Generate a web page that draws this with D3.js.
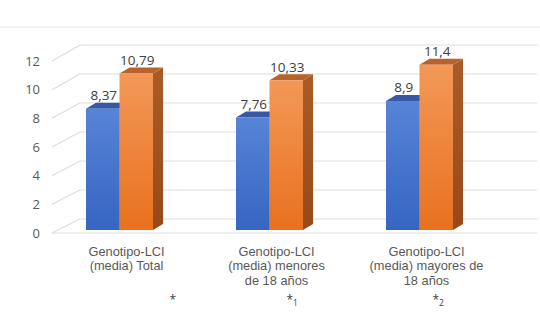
<!DOCTYPE html>
<html><head><meta charset="utf-8">
<script src="https://cdn.jsdelivr.net/npm/d3@7"></script>
<style>body{margin:0;background:#fff}svg{display:block}</style>
</head><body>
<svg id="c" width="540" height="315"></svg>
<script>
const categories = [
  ["Genotipo-LCI","(media) Total"],
  ["Genotipo-LCI","(media) menores","de 18 años"],
  ["Genotipo-LCI","(media) mayores de","18 años"]
];
const markers = ["*", "*1", "*2"];
const seriesA = [8.37, 7.76, 8.9];
const seriesB = [10.79, 10.33, 11.4];
const labelsA = ["8,37","7,76","8,9"];
const labelsB = ["10,79","10,33","11,4"];
const yTicks = [0,2,4,6,8,10,12];

const svg = d3.select("#c");
const idx = d3.range(categories.length);
const xC = d3.scalePoint(idx, [119.5, 419.5]);
const inner = d3.scaleBand([0,1], [-33.5, 33.5]);
const yBar = d3.scaleLinear([0,12],[230,56]);
const yBack = d3.scaleLinear([0,12],[219,45]);
const yWall = d3.scaleLinear([0,12],[233,61]);
const dx = 10, dy = -6;
const grid = "#dedede";
const FONT = "Open Sans";
const CATFONT = "Liberation Sans";

const defs = svg.append("defs");
function grad(id, c1, c2){
  const g = defs.append("linearGradient").attr("id",id).attr("x1",0).attr("y1",0).attr("x2",0).attr("y2",1);
  g.append("stop").attr("offset","0%").attr("stop-color",c1);
  g.append("stop").attr("offset","100%").attr("stop-color",c2);
}
grad("gBlue","#5784d6","#3665c3");
grad("gOr","#f39857","#e9711f");
grad("gOrS","#a95c27","#98491a");
grad("gBlS","#2f5299","#28478a");

svg.append("line").attr("x1",0).attr("x2",540).attr("y1",27).attr("y2",27).attr("stroke","#e4e4e4").attr("stroke-width",1.2);

const wx0 = 52, wx1 = 80, wxR = 537;
svg.selectAll(".bg").data(yTicks).join("line")
  .attr("x1",wx1).attr("x2",wxR).attr("y1",d=>yBack(d)).attr("y2",d=>yBack(d))
  .attr("stroke",grid).attr("stroke-width",1.2);
svg.selectAll(".sg").data(yTicks).join("line")
  .attr("x1",wx0).attr("x2",wx1).attr("y1",d=>yWall(d)).attr("y2",d=>yBack(d))
  .attr("stroke",grid).attr("stroke-width",1.2);
svg.append("line").attr("x1",wx0).attr("x2",wxR).attr("y1",yWall(0)).attr("y2",yWall(0))
  .attr("stroke",grid).attr("stroke-width",1.2);

svg.selectAll(".yt").data(yTicks).join("text")
  .attr("x",40).attr("y",d=>yWall(d)+4.5).attr("text-anchor","end")
  .attr("font-family",FONT).attr("font-size",13).attr("fill","#595959")
  .text(d=>d);

const series = [
  {vals:seriesA, labels:labelsA, front:"url(#gBlue)", side:"url(#gBlS)", top:"#3759a3", k:0},
  {vals:seriesB, labels:labelsB, front:"url(#gOr)", side:"url(#gOrS)", top:"#b9632c", k:1}
];
const bw = inner.bandwidth();
series.forEach(s=>{
  const g = svg.append("g");
  idx.forEach(i=>{
    const x0 = xC(i) + inner(s.k), x1 = x0 + bw;
    const yt = yBar(s.vals[i]), yb = yBar(0);
    g.append("path").attr("d",`M${x1},${yt}L${x1+dx},${yt+dy}L${x1+dx},${yb+dy}L${x1},${yb}Z`).attr("fill",s.side);
    g.append("path").attr("d",`M${x0},${yt}L${x0+dx},${yt+dy}L${x1+dx},${yt+dy}L${x1},${yt}Z`).attr("fill",s.top);
    g.append("rect").attr("x",x0).attr("y",yt).attr("width",bw).attr("height",yb-yt).attr("fill",s.front);
    g.append("text").attr("x",x0+bw/2+1).attr("y",yt-8.5).attr("text-anchor","middle")
      .attr("font-family",FONT).attr("font-size",13.5).attr("fill","#404040").text(s.labels[i]);
  });
});

idx.forEach(i=>{
  categories[i].forEach((ln,j)=>{
    svg.append("text").attr("text-anchor","middle")
      .attr("font-family",CATFONT).attr("font-size",12.8).attr("fill","#595959")
      .attr("x",xC(i)+7).attr("y",256+j*14.4).text(ln);
  });
});
const mOff = [50, 17, 13];
idx.forEach(i=>{
  const t = svg.append("text").attr("x",xC(i)+mOff[i]).attr("y",304)
    .attr("font-family",FONT).attr("font-size",12).attr("fill","#404040");
  t.append("tspan").text(markers[i][0]);
  if (markers[i].length>1) t.append("tspan").attr("dy",2).attr("font-size",8.5).text(markers[i].slice(1));
});
</script>
</body></html>
